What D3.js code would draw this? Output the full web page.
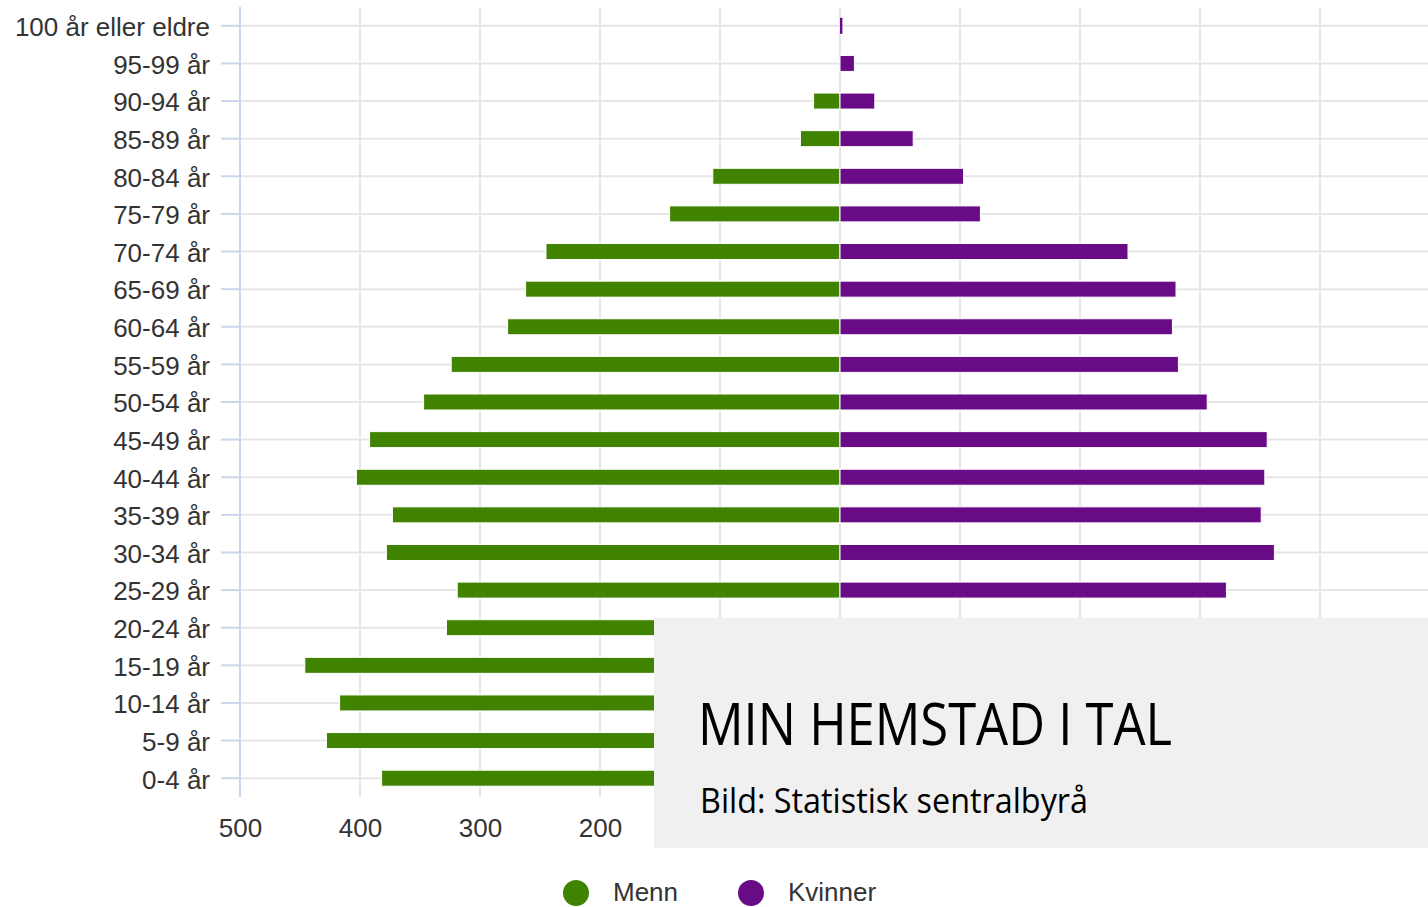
<!DOCTYPE html>
<html>
<head>
<meta charset="utf-8">
<script src="https://cdn.jsdelivr.net/npm/d3@7"></script>
<style>
  body { margin: 0; background: #fff; }
  svg { display: block; }
</style>
</head>
<body>
<svg></svg>
<script>
let categories = [
  "100 år eller eldre", "95-99 år", "90-94 år", "85-89 år", "80-84 år",
  "75-79 år", "70-74 år", "65-69 år", "60-64 år", "55-59 år", "50-54 år",
  "45-49 år", "40-44 år", "35-39 år", "30-34 år", "25-29 år", "20-24 år",
  "15-19 år", "10-14 år", "5-9 år", "0-4 år"
];

// men, drawn to the left
let menn = [0, 0, 22, 33, 106, 142, 245, 262, 277, 324, 347, 392, 403, 373, 378, 319, 328, 446, 417, 428, 382];
// women, drawn to the right (the last rows are hidden under the box)
let kvinner = [2, 12, 29, 61, 103, 117, 240, 280, 277, 282, 306, 356, 354, 351, 362, 322, 290, 410, 400, 395, 360];

let xTicks = [-500, -400, -300, -200, -100, 0, 100, 200, 300, 400, 500];
// only these labels show, the rest sit under the caption box
let xLabels = [-500, -400, -300, -200];

let seriesNames = ["Menn", "Kvinner"];
let colors = ["#3f8300", "#690a86"];

let width = 1428;
let height = 907;
let plotTop = 7;
let plotBottom = 797;
let plotLeft = 240;
let plotRight = 1440;
let barHeight = 16;

let svg = d3.select("svg").attr("width", width).attr("height", height);

let xScale = d3.scaleLinear().domain([-500, 500]).range([plotLeft, plotRight]);
let yScale = d3.scaleBand().domain(categories).range([plotTop, plotBottom]);
let yMid = (c) => yScale(c) + yScale.bandwidth() / 2;

// vertical grid
svg.append("g")
  .selectAll("line")
  .data(xTicks)
  .enter()
  .append("line")
  .attr("x1", (d) => xScale(d))
  .attr("x2", (d) => xScale(d))
  .attr("y1", plotTop)
  .attr("y2", plotBottom)
  .attr("stroke", "#e6e6e6")
  .attr("stroke-width", 2);

// horizontal grid on category centres
svg.append("g")
  .selectAll("line")
  .data(categories)
  .enter()
  .append("line")
  .attr("x1", plotLeft)
  .attr("x2", width)
  .attr("y1", (d) => yMid(d))
  .attr("y2", (d) => yMid(d))
  .attr("stroke", "#e6e6e6")
  .attr("stroke-width", 2);

// y axis
let yAxis = d3.axisLeft(yScale).tickSize(19).tickPadding(11);
let yG = svg.append("g")
  .attr("transform", "translate(" + plotLeft + ",0)")
  .call(yAxis);
yG.select(".domain").attr("stroke", "#ccd6eb").attr("stroke-width", 2)
  .attr("d", "M0," + plotTop + "V" + plotBottom);
yG.selectAll(".tick line").attr("stroke", "#ccd6eb").attr("stroke-width", 2);
yG.selectAll(".tick text")
  .attr("fill", "#333")
  .attr("y", 2)
  .style("font-family", "'Liberation Sans', Arial, sans-serif")
  .style("font-size", "26px");

// bars
svg.append("g")
  .selectAll("rect")
  .data(categories)
  .enter()
  .append("rect")
  .attr("x", (d, i) => xScale(-menn[i]))
  .attr("y", (d) => yMid(d) - barHeight / 2)
  .attr("width", (d, i) => xScale(0) - xScale(-menn[i]))
  .attr("height", barHeight)
  .attr("fill", colors[0])
  .attr("stroke", "#fff")
  .attr("stroke-width", (d, i) => menn[i] > 0 ? 1 : 0);

svg.append("g")
  .selectAll("rect")
  .data(categories)
  .enter()
  .append("rect")
  .attr("x", xScale(0))
  .attr("y", (d) => yMid(d) - barHeight / 2)
  .attr("width", (d, i) => xScale(kvinner[i]) - xScale(0))
  .attr("height", barHeight)
  .attr("fill", colors[1])
  .attr("stroke", "#fff")
  .attr("stroke-width", (d, i) => kvinner[i] > 5 ? 1 : 0);

// x axis
let xAxis = d3.axisBottom(xScale).tickValues(xLabels).tickSize(0).tickPadding(22)
  .tickFormat((d) => Math.abs(d));
let xG = svg.append("g")
  .attr("transform", "translate(0," + plotBottom + ")")
  .call(xAxis);
xG.select(".domain").remove();
xG.selectAll(".tick text")
  .attr("fill", "#333")
  .style("font-family", "'Liberation Sans', Arial, sans-serif")
  .style("font-size", "26px");

// legend
let legend = svg.append("g")
  .selectAll("g")
  .data(seriesNames)
  .enter()
  .append("g")
  .attr("transform", (d, i) => "translate(" + (576 + i * 175) + ",893)");
legend.append("circle").attr("r", 13).attr("fill", (d, i) => colors[i]);
legend.append("text")
  .attr("x", 37)
  .attr("y", 8)
  .attr("fill", "#333")
  .style("font-family", "'Liberation Sans', Arial, sans-serif")
  .style("font-size", "26px")
  .text((d) => d);

// overlay caption box
svg.append("rect")
  .attr("x", 654)
  .attr("y", 618)
  .attr("width", width - 654)
  .attr("height", 230)
  .attr("fill", "#f0f0f0");

svg.append("text")
  .attr("x", 698)
  .attr("y", 745)
  .attr("textLength", 474)
  .attr("lengthAdjust", "spacingAndGlyphs")
  .attr("fill", "#000")
  .style("font-family", "'Open Sans', sans-serif")
  .style("font-size", "58px")
  .text("MIN HEMSTAD I TAL");

svg.append("text")
  .attr("x", 700)
  .attr("y", 813)
  .attr("textLength", 388)
  .attr("lengthAdjust", "spacingAndGlyphs")
  .attr("fill", "#000")
  .style("font-family", "'Open Sans', sans-serif")
  .style("font-size", "35px")
  .text("Bild: Statistisk sentralbyrå");
</script>
</body>
</html>
